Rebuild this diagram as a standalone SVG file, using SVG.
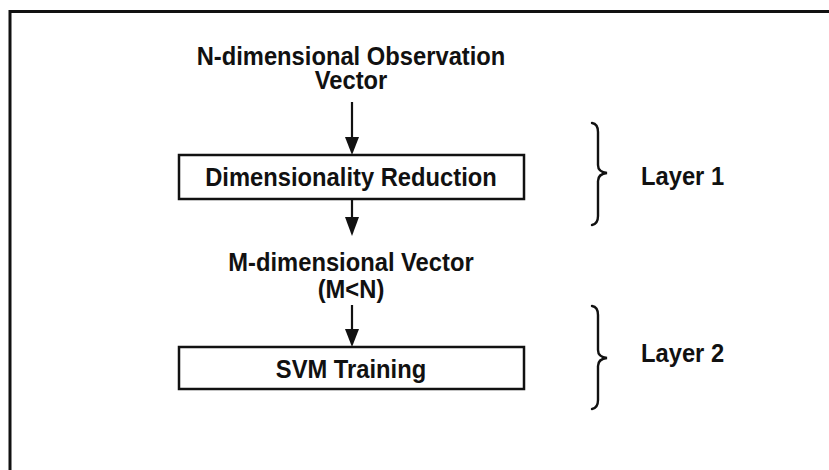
<svg xmlns="http://www.w3.org/2000/svg" width="829" height="470" viewBox="0 0 829 470">
  <style>
    .lbl { font-family: "Liberation Sans", Arial, sans-serif; font-weight: bold; font-size: 25px; fill: #111; text-anchor: middle; }
    .side { font-family: "Liberation Sans", Arial, sans-serif; font-weight: bold; font-size: 25px; fill: #111; }
    .box { fill: #fff; stroke: #111; stroke-width: 2.5; }
    .edge { stroke: #111; stroke-width: 2.2; fill: none; }
    .brace { stroke: #111; stroke-width: 2.4; fill: none; stroke-linecap: round; }
    .head { fill: #111; }
  </style>

  <rect width="829" height="470" fill="#fff"/>
  <!-- outer frame: left and top edges -->
  <path d="M10,470 V11.5 H829" fill="none" stroke="#111" stroke-width="3"/>

  <g id="input-vector" transform="translate(351 0) scale(0.95 1) translate(-351 0)">
    <text class="lbl" x="351" y="65">N-dimensional Observation<tspan x="351" dy="24">Vector</tspan></text>
  </g>

  <g id="dimensionality-reduction">
    <rect class="box" x="179" y="155" width="345" height="44"/>
    <text class="lbl" x="351" y="186" transform="translate(351 0) scale(0.95 1) translate(-351 0)">Dimensionality Reduction</text>
  </g>

  <g id="reduced-vector" transform="translate(351 0) scale(0.95 1) translate(-351 0)">
    <text class="lbl" x="351" y="271">M-dimensional Vector<tspan x="351" dy="27">(M&lt;N)</tspan></text>
  </g>

  <g id="svm-training">
    <rect class="box" x="179" y="347" width="345" height="42"/>
    <text class="lbl" x="351" y="378" transform="translate(351 0) scale(0.95 1) translate(-351 0)">SVM Training</text>
  </g>

  <g id="layer-1">
    <path class="brace" d="M592,123 Q598,124 598,132 V165 Q598,172 607,173 Q598,174 598,181 V216 Q598,224 592,225"/>
    <text class="side" x="641" y="185" transform="translate(641 0) scale(0.95 1) translate(-641 0)">Layer 1</text>
  </g>

  <g id="layer-2">
    <path class="brace" d="M592,306 Q598,307 598,315 V350 Q598,357 607,358 Q598,359 598,366 V400 Q598,408 592,409"/>
    <text class="side" x="641" y="362" transform="translate(641 0) scale(0.95 1) translate(-641 0)">Layer 2</text>
  </g>

  <g id="connectors">
    <line class="edge" x1="352" y1="102" x2="352" y2="138"/>
    <path class="head" d="M345,137 L359,137 L352,155 Z"/>
    <line class="edge" x1="352" y1="199" x2="352" y2="218"/>
    <path class="head" d="M345,217 L359,217 L352,236 Z"/>
    <line class="edge" x1="352" y1="305" x2="352" y2="330"/>
    <path class="head" d="M345,329 L359,329 L352,347 Z"/>
  </g>
</svg>
